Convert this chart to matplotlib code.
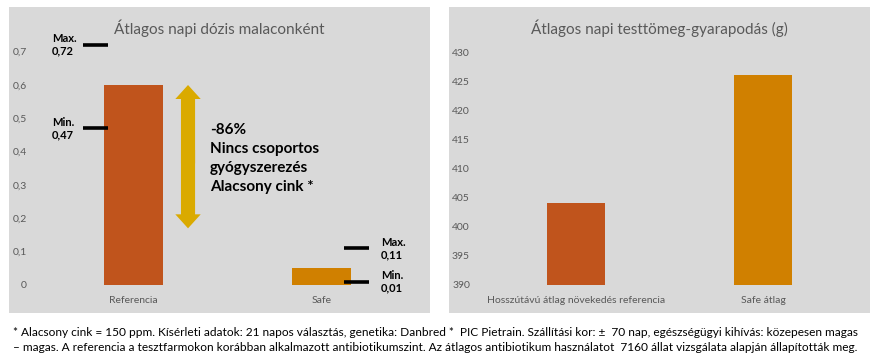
import numpy as np
import matplotlib
matplotlib.use("Agg")
import matplotlib.pyplot as plt
from matplotlib.patches import Rectangle

# data
dose_cats = ["Referencia", "Safe"]
dose_vals = [0.60, 0.05]
dose_max = [0.72, 0.11]
dose_min = [0.47, 0.01]
dose_max_lbl = ["Max.\n0,72", "Max.\n0,11"]
dose_min_lbl = ["Min.\n0,47", "Min.\n0,01"]
dose_ticks = [0, 0.1, 0.2, 0.3, 0.4, 0.5, 0.6, 0.7]
dose_ticklbl = ["0", "0,1", "0,2", "0,3", "0,4", "0,5", "0,6", "0,7"]
arrow_top, arrow_bottom = 0.60, 0.17
arrow_txt = "-86%\nNincs csoportos\ngyógyszerezés\nAlacsony cink *"

gain_cats = ["Hosszútávú átlag növekedés referencia", "Safe átlag"]
gain_vals = [404, 426]
gain_ticks = [390, 395, 400, 405, 410, 415, 420, 425, 430]

colors = ["#C0541C", "#D08000"]
bg = "#D9D9D9"
gray_txt = "#595959"

footnote = ("* Alacsony cink = 150 ppm. Kísérleti adatok: 21 napos választás, genetika: Danbred *  PIC Pietrain. "
            "Szállítási kor: ±  70 nap, egészségügyi kihívás: közepesen magas\n"
            "– magas. A referencia a tesztfarmokon korábban alkalmazott antibiotikumszint. "
            "Az átlagos antibiotikum használatot  7160 állat vizsgálata alapján állapították meg.")

plt.rcParams['font.family'] = ['Lato', 'DejaVu Sans']

W, H = 881, 364
fig = plt.figure(figsize=(W / 100, H / 100), dpi=100)

def px(x0, y0, w, h):
    return [x0 / W, 1 - (y0 + h) / H, w / W, h / H]

# gray panels
for x0 in (9, 449):
    r = px(x0, 7, 421, 306)
    fig.add_artist(Rectangle((r[0], r[1]), r[2], r[3], transform=fig.transFigure,
                             facecolor=bg, edgecolor="none", zorder=0))

# left chart
ax1 = fig.add_axes(px(39.5, 35, 376, 250))
ax1.set_facecolor("none")
x = np.arange(len(dose_cats))
ax1.bar(x, dose_vals, width=0.315, color=colors, zorder=2)
ax1.set_xlim(-0.5, 1.5)
ax1.set_ylim(0, 0.75)
for i in range(2):
    if i == 0:
        x0, x1, tx = -0.27, -0.135, -0.435
    else:
        x0, x1, tx = 1.12, 1.255, 1.315
    ax1.hlines([dose_max[i], dose_min[i]], x0, x1, color="black", lw=2.6, zorder=3)
    ax1.text(tx, dose_max[i], dose_max_lbl[i], ha="left", va="center",
             fontsize=8, fontweight="bold", linespacing=1.15)
    ax1.text(tx, dose_min[i], dose_min_lbl[i], ha="left", va="center",
             fontsize=8, fontweight="bold", linespacing=1.15)

# double-headed arrow: two halves that overlap a little in the middle
mid = (arrow_top + arrow_bottom) / 2
for start, end in ((mid - 0.02, arrow_top), (mid + 0.02, arrow_bottom)):
    ax1.arrow(0.29, start, 0, end - start, width=0.075, head_width=0.135, head_length=0.042,
              length_includes_head=True, color="#DAAA00", lw=0, zorder=3)
ax1.text(0.405, 0.38, arrow_txt, ha="left", va="center", fontsize=11,
         fontweight="bold", linespacing=1.45)

ax1.set_xticks(x, dose_cats)
ax1.set_yticks(dose_ticks, dose_ticklbl)
fig.text(219.5 / W, 1 - 28 / H, "Átlagos napi dózis malaconként", ha="center", va="center",
         fontsize=11, color=gray_txt)

# right chart
ax2 = fig.add_axes(px(482.5, 52, 374, 233))
ax2.set_facecolor("none")
x2 = np.arange(len(gain_cats))
ax2.bar(x2, gain_vals, width=0.315, color=colors, bottom=0, zorder=2)
ax2.set_xlim(-0.5, 1.5)
ax2.set_ylim(390, 430)
ax2.set_xticks(x2, gain_cats)
ax2.set_yticks(gain_ticks)
fig.text(659.5 / W, 1 - 28 / H, "Átlagos napi testtömeg-gyarapodás (g)", ha="center", va="center",
         fontsize=11, color=gray_txt)

for ax in (ax1, ax2):
    for s in ax.spines.values():
        s.set_visible(False)
    ax.tick_params(axis="y", length=0, pad=9, labelsize=7.5, labelcolor=gray_txt)
    ax.tick_params(axis="x", length=0, pad=8, labelsize=7.5, labelcolor=gray_txt)

fig.text(13 / W, 1 - 340 / H, footnote, ha="left", va="center", fontsize=8.6,
         family=['Lato', 'DejaVu Sans'], linespacing=1.35)

fig.savefig("out.png", dpi=100)
